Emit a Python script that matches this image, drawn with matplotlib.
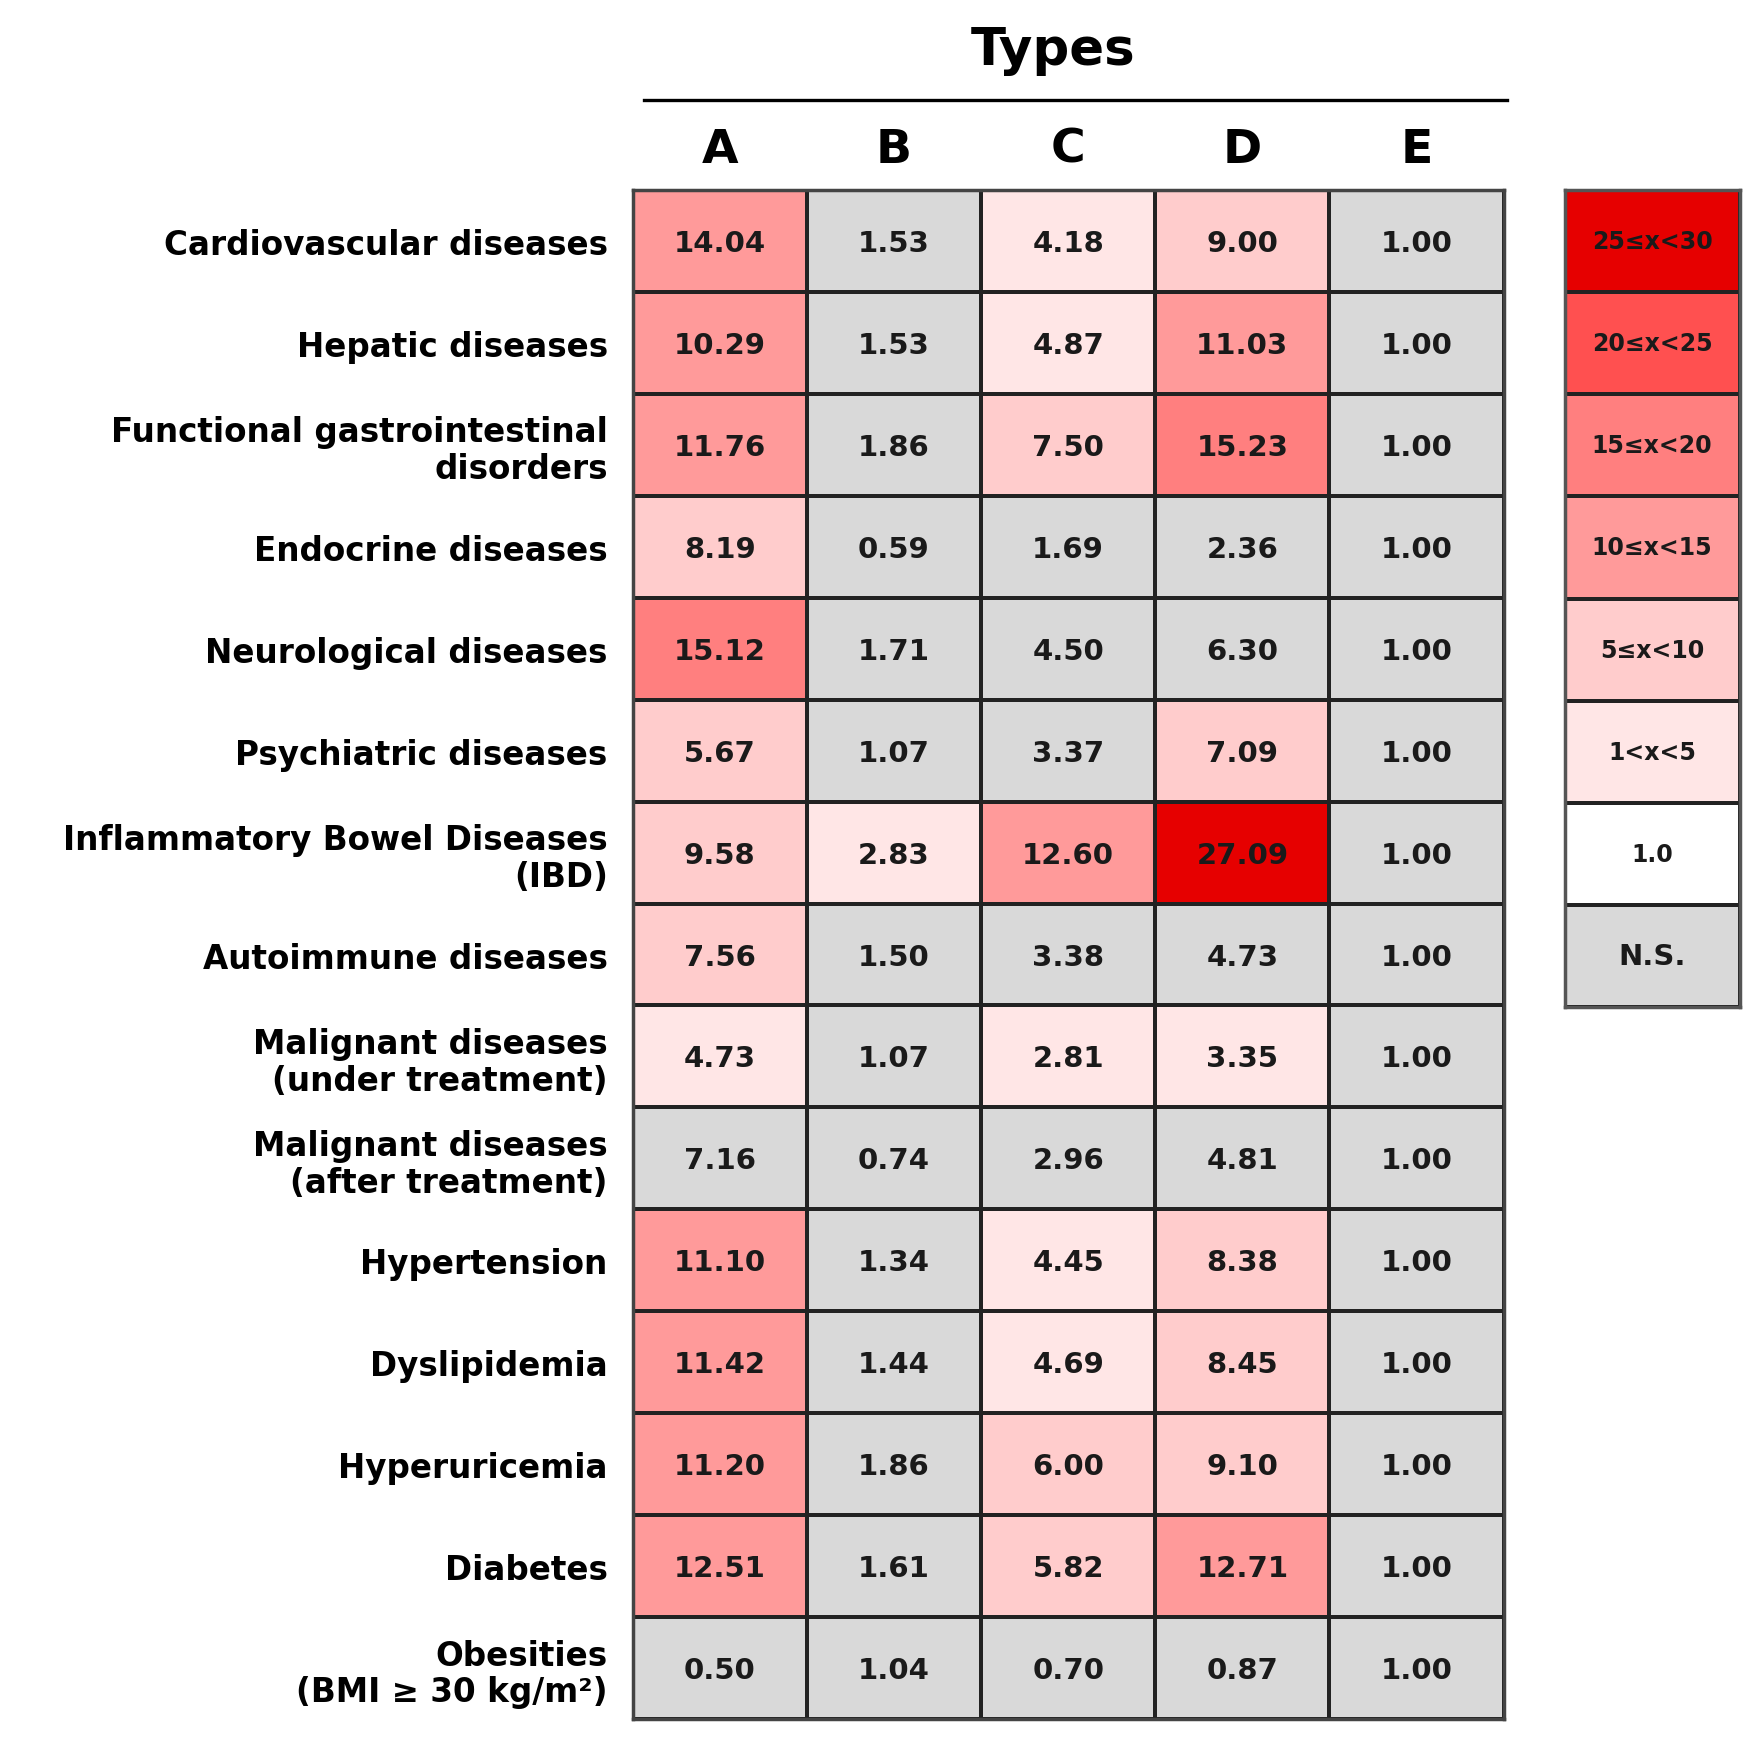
import numpy as np
import matplotlib
matplotlib.use("Agg")
import matplotlib.pyplot as plt
from matplotlib.colors import ListedColormap, BoundaryNorm
from matplotlib.lines import Line2D

plt.rcParams['font.family'] = ['DejaVu Sans']
plt.rcParams['font.weight'] = 'bold'

types = ["A", "B", "C", "D", "E"]
diseases = [
    "Cardiovascular diseases",
    "Hepatic diseases",
    "Functional gastrointestinal\ndisorders",
    "Endocrine diseases",
    "Neurological diseases",
    "Psychiatric diseases",
    "Inflammatory Bowel Diseases\n(IBD)",
    "Autoimmune diseases",
    "Malignant diseases\n(under treatment)",
    "Malignant diseases\n(after treatment)",
    "Hypertension",
    "Dyslipidemia",
    "Hyperuricemia",
    "Diabetes",
    "Obesities\n(BMI ≥ 30 kg/m²)",
]

odds = np.array([
    [14.04, 1.53, 4.18, 9.00, 1.00],
    [10.29, 1.53, 4.87, 11.03, 1.00],
    [11.76, 1.86, 7.50, 15.23, 1.00],
    [8.19, 0.59, 1.69, 2.36, 1.00],
    [15.12, 1.71, 4.50, 6.30, 1.00],
    [5.67, 1.07, 3.37, 7.09, 1.00],
    [9.58, 2.83, 12.60, 27.09, 1.00],
    [7.56, 1.50, 3.38, 4.73, 1.00],
    [4.73, 1.07, 2.81, 3.35, 1.00],
    [7.16, 0.74, 2.96, 4.81, 1.00],
    [11.10, 1.34, 4.45, 8.38, 1.00],
    [11.42, 1.44, 4.69, 8.45, 1.00],
    [11.20, 1.86, 6.00, 9.10, 1.00],
    [12.51, 1.61, 5.82, 12.71, 1.00],
    [0.50, 1.04, 0.70, 0.87, 1.00],
])

# 1 = significant, 0 = N.S.
significant = np.array([
    [1, 0, 1, 1, 0],
    [1, 0, 1, 1, 0],
    [1, 0, 1, 1, 0],
    [1, 0, 0, 0, 0],
    [1, 0, 0, 0, 0],
    [1, 0, 0, 1, 0],
    [1, 1, 1, 1, 0],
    [1, 0, 0, 0, 0],
    [1, 0, 1, 1, 0],
    [0, 0, 0, 0, 0],
    [1, 0, 1, 1, 0],
    [1, 0, 1, 1, 0],
    [1, 0, 1, 1, 0],
    [1, 0, 1, 1, 0],
    [0, 0, 0, 0, 0],
])

legend_labels = ["25≤x<30", "20≤x<25", "15≤x<20", "10≤x<15", "5≤x<10", "1<x<5", "1.0", "N.S."]
# colours from N.S., 1.0, 1-5 ... 25-30
bin_colors = ["#D9D9D9", "#FFFFFF", "#FFE6E6", "#FFCCCC", "#FF9A9A", "#FF7F7F", "#FF5050", "#E60000"]
bin_edges = [1.0001, 5, 10, 15, 20, 25]

cmap = ListedColormap(bin_colors)
norm = BoundaryNorm(np.arange(-0.5, len(bin_colors) + 0.5), cmap.N)

# category index per cell
cat = np.digitize(odds, bin_edges) + 1
cat = np.where(significant == 1, cat, 0)

fig = plt.figure(figsize=(17.56, 17.40), dpi=100)

ax = fig.add_axes([0.3603, 0.0115, 0.496, 0.8787])
ax.pcolormesh(cat, cmap=cmap, norm=norm, edgecolors="#222222", linewidth=1.6)
ax.set_xlim(0, len(types))
ax.set_ylim(len(diseases), 0)
for i in range(len(diseases)):
    for j in range(len(types)):
        ax.text(j + 0.5, i + 0.52, f"{odds[i, j]:.2f}", ha="center", va="center",
                fontsize=21, fontweight="bold", color="#1a1a1a")

ax.xaxis.tick_top()
ax.set_xticks(np.arange(len(types)) + 0.5)
ax.set_xticklabels(types, fontsize=34, fontweight="bold")
ax.set_yticks(np.arange(len(diseases)) + 0.5)
ax.set_yticklabels(diseases, fontsize=23.5, fontweight="bold", ha="right",
                   multialignment="right", linespacing=1.15)
ax.tick_params(axis="x", length=0, pad=13)
ax.tick_params(axis="y", length=0, pad=18)
for s in ax.spines.values():
    s.set_color("#444444")
    s.set_linewidth(2.5)

# legend column
lax = fig.add_axes([0.891, 0.4207, 0.0997, 0.4695])
legend_codes = np.arange(len(bin_colors) - 1, -1, -1).reshape(-1, 1)
lax.pcolormesh(legend_codes, cmap=cmap, norm=norm, edgecolors="#222222", linewidth=1.6)
lax.set_xlim(0, 1)
lax.set_ylim(len(legend_labels), 0)
for k, lab in enumerate(legend_labels):
    lax.text(0.5, k + 0.5, lab, ha="center", va="center",
             fontsize=21 if lab == "N.S." else 17, fontweight="bold", color="#1a1a1a")
lax.set_xticks([])
lax.set_yticks([])
for s in lax.spines.values():
    s.set_color("#555555")
    s.set_linewidth(2.5)

# header
fig.text(0.5995, 0.9707, "Types", ha="center", va="center", fontsize=37, fontweight="bold")
fig.add_artist(Line2D([0.367, 0.858], [0.942, 0.942], color="black", linewidth=2.4,
                      transform=fig.transFigure))

fig.savefig("out.png", dpi=100, facecolor="white")
